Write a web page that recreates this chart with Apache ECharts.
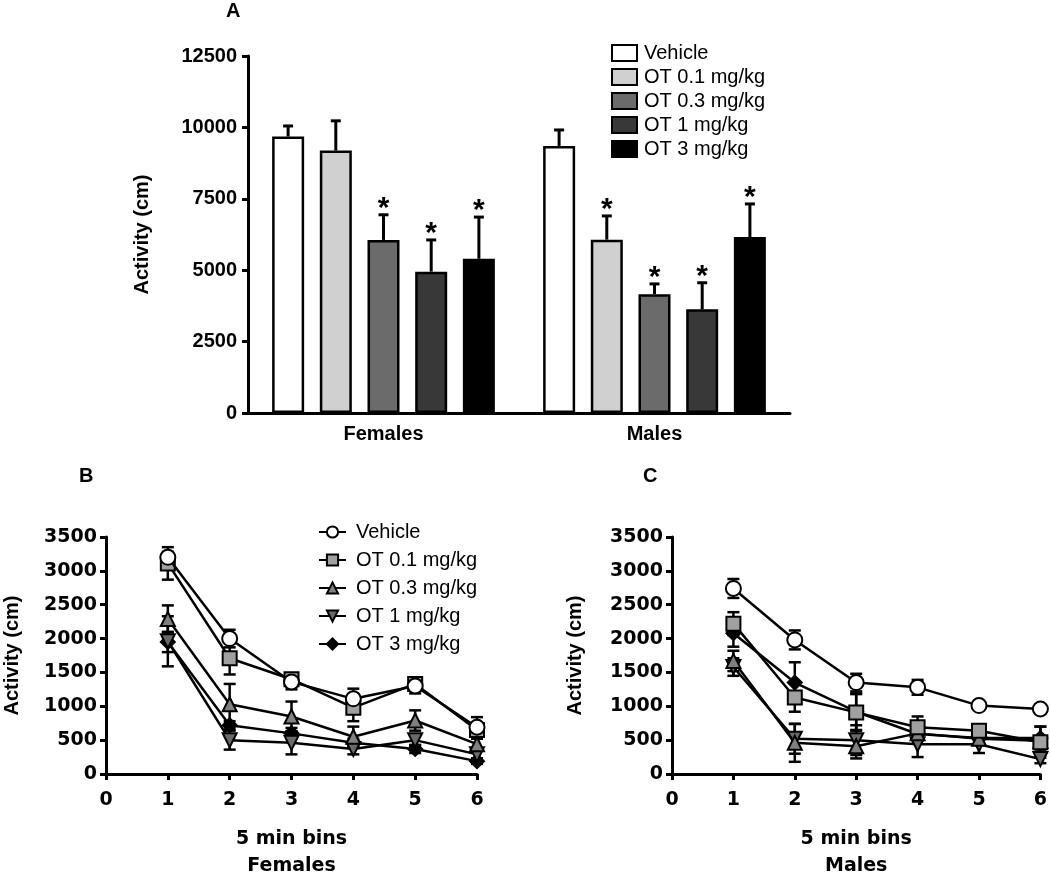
<!DOCTYPE html>
<html>
<head>
<meta charset="utf-8">
<script src="https://cdn.jsdelivr.net/npm/echarts@6/dist/echarts.min.js"></script>
<style>
  body { margin: 0; background: #fff; }
  #chartA { position: absolute; left: 0; top: 0; width: 1050px; height: 460px; }
  #chartBC { position: absolute; left: 0; top: 460px; width: 1050px; height: 425px; }
</style>
</head>
<body>
<div id="chartA"></div>
<div id="chartBC"></div>
<script>
// groups and categories
const groups = ["Vehicle", "OT 0.1 mg/kg", "OT 0.3 mg/kg", "OT 1 mg/kg", "OT 3 mg/kg"];
const sexes = ["Females", "Males"];
const bins = [1, 2, 3, 4, 5, 6];

// panel A: total activity (mean, SEM), significance
const femalesMean = [9680, 9190, 6060, 4950, 5400];
const femalesSem = [370, 1040, 880, 1110, 1460];
const femalesSig = [0, 0, 1, 1, 1];
const malesMean = [9350, 6070, 4160, 3630, 6160];
const malesSem = [560, 830, 360, 930, 1160];
const malesSig = [0, 1, 1, 1, 1];

// panel B: females, 5 min bins
const fVehicle = [3200, 2000, 1360, 1110, 1300, 690];
const fVehicleSem = [80, 130, 110, 150, 110, 150];
const fOT01 = [3110, 1710, 1400, 980, 1330, 650];
const fOT01Sem = [240, 240, 80, 200, 80, 100];
const fOT03 = [2290, 1030, 850, 550, 790, 440];
const fOT03Sem = [200, 300, 220, 150, 150, 80];
const fOT1 = [1960, 500, 460, 370, 500, 290];
const fOT1Sem = [370, 140, 170, 80, 80, 60];
const fOT3 = [1950, 720, 600, 460, 370, 190];
const fOT3Sem = [150, 60, 80, 60, 60, 40];

// panel C: males, 5 min bins
const mVehicle = [2740, 1980, 1350, 1280, 1010, 960];
const mVehicleSem = [140, 140, 130, 110, 40, 60];
const mOT01 = [2220, 1130, 910, 690, 640, 470];
const mOT01Sem = [170, 210, 270, 160, 60, 230];
const mOT03 = [1670, 460, 410, 600, 520, 490];
const mOT03Sem = [150, 280, 180, 80, 60, 60];
const mOT1 = [1580, 520, 500, 440, 440, 220];
const mOT1Sem = [130, 220, 220, 190, 130, 60];
const mOT3 = [2080, 1350, 920, 590, 530, 530];
const mOT3Sem = [200, 300, 270, 100, 80, 170];

const barColors = ["#ffffff", "#d0d0d0", "#6b6b6b", "#383838", "#000000"];
const markerFills = ["#ffffff", "#a0a0a0", "#808080", "#6a6a6a", "#000000"];
const markerSymbols = ["circle", "rect", "triangle", "path://M0,0 L10,0 L5,9 Z", "diamond"];
const markerSizes = [15, 14, 14, 14, 14];

const BAR_W = 32;
const BAR_STEP = 47.7;
const axisFont = "Liberation Sans";
const plainNum = (v) => String(v);

// ---------- panel A ----------
const chartA = echarts.init(document.getElementById("chartA"));

const errDataA = [];
[femalesMean, malesMean].forEach((means, s) => {
  const sems = s === 0 ? femalesSem : malesSem;
  const sig = s === 0 ? femalesSig : malesSig;
  means.forEach((m, g) => errDataA.push([s, g, m, sems[g], sig[g]]));
});

const barSeries = groups.map((name, g) => ({
  name: name,
  type: "bar",
  data: [femalesMean[g], malesMean[g]],
  barWidth: BAR_W,
  barGap: "49%",
  itemStyle: { color: barColors[g], borderColor: "#000", borderWidth: 2.5 },
  z: 2,
}));

const optionA = {
  animation: false,
  grid: { left: 248, top: 56, width: 542, height: 357 },
  graphic: [
    {
      type: "text", left: 226, top: 1,
      style: { text: "A", font: "bold 20px Liberation Sans", fill: "#000" },
    },
  ],
  legend: {
    orient: "vertical",
    left: 606,
    top: 38,
    itemWidth: 25,
    itemHeight: 16,
    itemGap: 4,
    icon: "rect",
    selectedMode: false,
    data: groups,
    textStyle: { fontFamily: axisFont, fontSize: 20, color: "#000", lineHeight: 20, padding: [0, 0, 0, 2] },
  },
  xAxis: {
    type: "category",
    data: sexes,
    axisLine: { lineStyle: { color: "#000", width: 3 } },
    axisTick: { alignWithLabel: true, length: 6, lineStyle: { color: "#000", width: 3 } },
    axisLabel: { margin: 11, fontFamily: axisFont, fontWeight: "bold", fontSize: 20, color: "#000" },
  },
  yAxis: {
    type: "value",
    min: 0,
    max: 12500,
    interval: 2500,
    name: "Activity (cm)",
    nameLocation: "middle",
    nameRotate: 90,
    nameGap: 96,
    nameTextStyle: { fontFamily: axisFont, fontWeight: "bold", fontSize: 20, color: "#000" },
    axisLine: { show: true, lineStyle: { color: "#000", width: 3 } },
    axisTick: { show: true, length: 6, lineStyle: { color: "#000", width: 3 } },
    axisLabel: { margin: 11, fontFamily: axisFont, fontWeight: "bold", fontSize: 20, color: "#000", formatter: plainNum },
    splitLine: { show: false },
  },
  series: barSeries.concat([
    {
      type: "custom",
      name: "errA",
      data: errDataA,
      z: 3,
      renderItem: function (params, api) {
        const base = api.coord([api.value(0), api.value(2)]);
        const top = api.coord([api.value(0), api.value(2) + api.value(3)]);
        const x = base[0] + (api.value(1) - 2) * BAR_STEP;
        const style = { stroke: "#000", lineWidth: 3 };
        const children = [
          { type: "line", shape: { x1: x, y1: base[1], x2: x, y2: top[1] }, style: style },
          { type: "line", shape: { x1: x - 5, y1: top[1], x2: x + 5, y2: top[1] }, style: style },
        ];
        if (api.value(4)) {
          children.push({
            type: "text",
            style: {
              text: "*", x: x, y: top[1] - 6,
              textAlign: "center", textVerticalAlign: "middle",
              font: "bold 30px Liberation Sans", fill: "#000",
            },
          });
        }
        return { type: "group", children: children };
      },
    },
  ]),
};
chartA.setOption(optionA);

// ---------- panels B and C ----------
const chartBC = echarts.init(document.getElementById("chartBC"));

const femaleLines = [fVehicle, fOT01, fOT03, fOT1, fOT3];
const femaleSems = [fVehicleSem, fOT01Sem, fOT03Sem, fOT1Sem, fOT3Sem];
const maleLines = [mVehicle, mOT01, mOT03, mOT1, mOT3];
const maleSems = [mVehicleSem, mOT01Sem, mOT03Sem, mOT1Sem, mOT3Sem];

function errRender(params, api) {
  const lo = api.coord([api.value(0), api.value(1) - api.value(2)]);
  const hi = api.coord([api.value(0), api.value(1) + api.value(2)]);
  const x = lo[0];
  const style = { stroke: "#000", lineWidth: 2.5 };
  return {
    type: "group",
    children: [
      { type: "line", shape: { x1: x, y1: lo[1], x2: x, y2: hi[1] }, style: style },
      { type: "line", shape: { x1: x - 6, y1: lo[1], x2: x + 6, y2: lo[1] }, style: style },
      { type: "line", shape: { x1: x - 6, y1: hi[1], x2: x + 6, y2: hi[1] }, style: style },
    ],
  };
}

function errData(lines, sems) {
  const out = [];
  lines.forEach((arr, g) => arr.forEach((v, i) => out.push([bins[i], v, sems[g][i]])));
  return out;
}

function lineSeries(lines, idx) {
  // vehicle gets the highest z so it sits on top
  return groups.map((name, g) => ({
    name: name,
    type: "line",
    xAxisIndex: idx,
    yAxisIndex: idx,
    data: bins.map((b, i) => [b, lines[g][i]]),
    symbol: markerSymbols[g],
    symbolSize: markerSizes[g],
    showAllSymbol: true,
    itemStyle: { color: markerFills[g], borderColor: "#000", borderWidth: 2 },
    lineStyle: { color: "#000", width: 2.5 },
    z: 10 - g,
  }));
}

function xAxisFor(idx, sex) {
  return {
    type: "value",
    gridIndex: idx,
    min: 0,
    max: 6,
    interval: 1,
    name: "5 min bins\n" + sex,
    nameLocation: "middle",
    nameGap: 52,
    nameTextStyle: { fontFamily: "DejaVu Sans", fontWeight: "bold", fontSize: 19, color: "#000", lineHeight: 27 },
    axisLine: { lineStyle: { color: "#000", width: 3 } },
    axisTick: { length: 6, lineStyle: { color: "#000", width: 3 } },
    axisLabel: { margin: 17, fontFamily: "DejaVu Sans", fontWeight: "bold", fontSize: 19, color: "#000" },
    splitLine: { show: false },
  };
}

function yAxisFor(idx, gap) {
  return {
    type: "value",
    gridIndex: idx,
    min: 0,
    max: 3500,
    interval: 500,
    name: "Activity (cm)",
    nameLocation: "middle",
    nameRotate: 90,
    nameGap: gap,
    nameTextStyle: { fontFamily: axisFont, fontWeight: "bold", fontSize: 20, color: "#000" },
    axisLine: { show: true, lineStyle: { color: "#000", width: 3 } },
    axisTick: { show: true, length: 6, lineStyle: { color: "#000", width: 3 } },
    axisLabel: { margin: 9, fontFamily: "DejaVu Sans", fontWeight: "bold", fontSize: 19, color: "#000", formatter: plainNum },
    splitLine: { show: false },
  };
}

const optionBC = {
  animation: false,
  grid: [
    { left: 106, top: 77, width: 371, height: 248 },
    { left: 672, top: 77, width: 370, height: 248 },
  ],
  graphic: [
    { type: "text", left: 79, top: 6, style: { text: "B", font: "bold 20px Liberation Sans", fill: "#000" } },
    { type: "text", left: 643, top: 6, style: { text: "C", font: "bold 20px Liberation Sans", fill: "#000" } },
  ],
  legend: {
    orient: "vertical",
    left: 313,
    top: 57,
    itemWidth: 27,
    itemHeight: 14,
    itemGap: 8,
    selectedMode: false,
    data: groups,
    textStyle: { fontFamily: axisFont, fontSize: 20, color: "#000", lineHeight: 20, padding: [0, 0, 0, 5] },
  },
  xAxis: [xAxisFor(0, "Females"), xAxisFor(1, "Males")],
  yAxis: [yAxisFor(0, 84), yAxisFor(1, 87)],
  series: [
    { type: "custom", name: "errB", xAxisIndex: 0, yAxisIndex: 0, data: errData(femaleLines, femaleSems), renderItem: errRender, z: 1 },
    { type: "custom", name: "errC", xAxisIndex: 1, yAxisIndex: 1, data: errData(maleLines, maleSems), renderItem: errRender, z: 1 },
  ].concat(lineSeries(femaleLines, 0), lineSeries(maleLines, 1)),
};
chartBC.setOption(optionBC);

window.onresize = function () {
  chartA.resize();
  chartBC.resize();
};
</script>
</body>
</html>
